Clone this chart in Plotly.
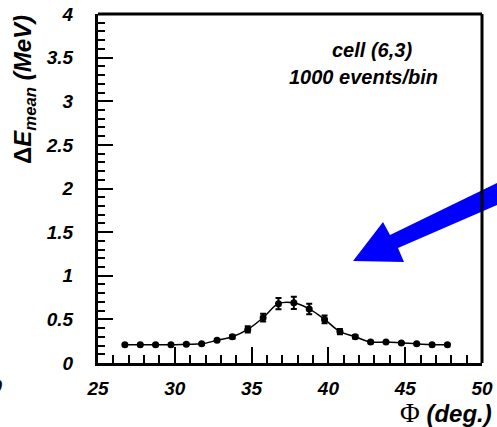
import plotly.graph_objects as go

# Data
phi = [26.75, 27.75, 28.75, 29.75, 30.75, 31.75, 32.75, 33.75, 34.75, 35.75, 36.75,
       37.75, 38.75, 39.75, 40.75, 41.75, 42.75, 43.75, 44.75, 45.75, 46.75, 47.75]
de_mean = [0.21, 0.21, 0.21, 0.21, 0.215, 0.22, 0.26, 0.30, 0.385, 0.52, 0.68,
           0.69, 0.62, 0.50, 0.36, 0.30, 0.24, 0.24, 0.23, 0.22, 0.21, 0.21]
de_err = [0.01, 0.01, 0.01, 0.01, 0.01, 0.01, 0.015, 0.02, 0.035, 0.045, 0.065,
          0.07, 0.06, 0.045, 0.03, 0.02, 0.015, 0.01, 0.01, 0.01, 0.01, 0.01]
x_ticks = [25, 30, 35, 40, 45, 50]
y_ticks = [0, 0.5, 1, 1.5, 2, 2.5, 3, 3.5, 4]
y_ticklabels = ["0", "0.5", "1", "1.5", "2", "2.5", "3", "3.5", "4"]

W, H = 497, 427
L, R, T, B = 98, 15, 14, 64
PW, PH = W - L - R, H - T - B

def px(xp):
    return (xp - L) / PW

def py(yp):
    return (H - B - yp) / PH

FONT = "Liberation Sans, Arial, Helvetica, sans-serif"

fig = go.Figure()
fig.add_trace(go.Scatter(
    x=phi, y=de_mean,
    mode="lines+markers",
    line=dict(color="black", width=1.5, shape="spline"),
    marker=dict(color="black", size=7, symbol="circle"),
    error_y=dict(type="data", array=de_err, color="black", thickness=2, width=3),
    showlegend=False, cliponaxis=False,
))

# Blue arrow (pixel coordinates converted to paper)
arrow_pts = [(383, 222), (390, 235), (497, 183), (497, 205), (398, 248), (404, 262), (353, 261)]
path = "M " + " L ".join(f"{px(a):.4f},{py(b):.4f}" for a, b in arrow_pts) + " Z"
fig.add_shape(type="path", path=path, xref="paper", yref="paper",
              fillcolor="#0000ff", line=dict(color="#0000ff", width=0), layer="above")

# Frame: top and right borders drawn explicitly (over the arrow)
fig.add_shape(type="line", xref="paper", yref="paper", x0=0, x1=1, y0=1, y1=1,
              line=dict(color="black", width=3), layer="above")
fig.add_shape(type="line", xref="paper", yref="paper", x0=1, x1=1, y0=0, y1=1,
              line=dict(color="black", width=3), layer="above")

tickfont = dict(family=FONT, size=19, color="black", weight="bold", style="italic")

fig.update_xaxes(
    range=[25, 50], tickmode="array", tickvals=x_ticks, ticktext=[str(v) for v in x_ticks],
    ticks="inside", ticklen=16, tickwidth=2, tickcolor="black",
    minor=dict(ticks="inside", ticklen=8, tickwidth=2, tickcolor="black", dtick=1, showgrid=False),
    showline=True, linewidth=3, linecolor="black", mirror=False,
    showgrid=False, zeroline=False, tickfont=tickfont, ticklabelstandoff=6, automargin=False,
)
fig.update_yaxes(
    range=[0, 4], tickmode="array", tickvals=y_ticks, ticktext=y_ticklabels,
    ticks="inside", ticklen=15, tickwidth=2, tickcolor="black",
    minor=dict(ticks="inside", ticklen=7, tickwidth=2, tickcolor="black", dtick=0.1, showgrid=False),
    showline=True, linewidth=3, linecolor="black", mirror=False,
    showgrid=False, zeroline=False, tickfont=tickfont, ticklabelstandoff=18, automargin=False,
)

ann_font = dict(family=FONT, size=20, color="black", weight="bold", style="italic")
fig.add_annotation(text="cell (6,3)", x=px(372), y=py(50), xref="paper", yref="paper",
                   showarrow=False, xanchor="center", yanchor="middle", font=ann_font)
fig.add_annotation(text="1000 events/bin", x=px(363), y=py(77), xref="paper", yref="paper",
                   showarrow=False, xanchor="center", yanchor="middle", font=ann_font)

# Axis titles
fig.add_annotation(text="<span style='font-style:normal'>Δ</span>E<sub>mean</sub> (MeV)",
                   x=px(24), y=py(90), xref="paper", yref="paper",
                   showarrow=False, textangle=-90, xanchor="center", yanchor="middle",
                   font=dict(family=FONT, size=24, color="black", weight="bold", style="italic"))
fig.add_annotation(text="<span style='font-family:Liberation Serif;font-style:normal;font-weight:normal;font-size:27px'>Φ</span> (deg.)",
                   x=px(494), y=py(413), xref="paper", yref="paper",
                   showarrow=False, xanchor="right", yanchor="middle",
                   font=dict(family=FONT, size=24, color="black", weight="bold", style="italic"))
# cropped label from neighbouring panel at the left edge
fig.add_annotation(text="50", x=px(5), y=py(386), xref="paper", yref="paper",
                   showarrow=False, xanchor="right", yanchor="middle", font=tickfont)

fig.update_layout(
    template="none",
    width=W, height=H, autosize=False,
    margin=dict(l=L, r=R, t=T, b=B, pad=0, autoexpand=False),
    paper_bgcolor="white", plot_bgcolor="white",
)

fig.write_html("out.html", config={"displayModeBar": False, "responsive": False},
               post_script="document.body.style.margin='0px';document.body.style.overflow='hidden';")
